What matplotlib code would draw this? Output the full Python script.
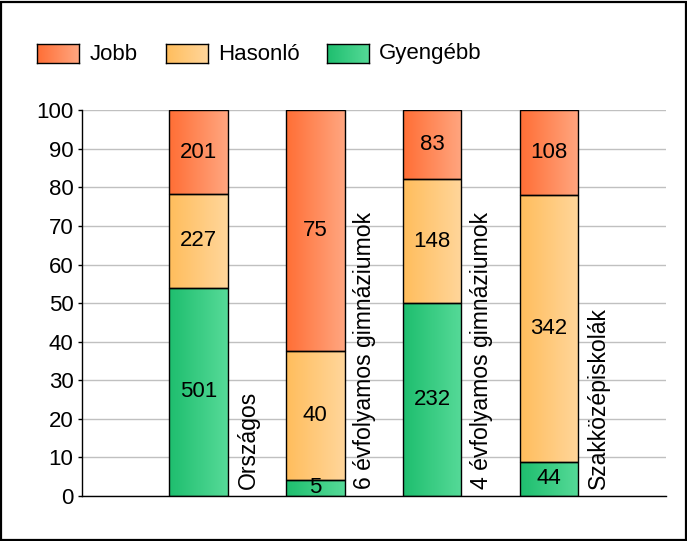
import numpy as np
import matplotlib
matplotlib.use("Agg")
import matplotlib.pyplot as plt
from matplotlib.patches import Rectangle
from matplotlib.colors import LinearSegmentedColormap

plt.rcParams['font.family'] = ['Liberation Sans', 'DejaVu Sans']

categories = ["Országos", "6 évfolyamos gimnáziumok", "4 évfolyamos gimnáziumok", "Szakközépiskolák"]
series_names = ["Jobb", "Hasonló", "Gyengébb"]
gyengebb = [501, 5, 232, 44]
hasonlo = [227, 40, 148, 342]
jobb = [201, 75, 83, 108]
yticks = list(range(0, 101, 10))

grad = {
    "Gyengébb": ("#1EBE6E", "#56DA98"),
    "Hasonló": ("#FFBD5C", "#FFD69B"),
    "Jobb": ("#FF6E35", "#FFA680"),
}
FS = 16

W, H = 687, 541
fig = plt.figure(figsize=(W / 100, H / 100), dpi=100)
ax_l, ax_r, ax_t, ax_b = 81.7, 665.7, 110.3, 496.0
ax = fig.add_axes([ax_l / W, (H - ax_b) / H, (ax_r - ax_l) / W, (ax_b - ax_t) / H])

x = np.arange(1, len(categories) + 1)
tot = np.array(gyengebb) + np.array(hasonlo) + np.array(jobb)
stack = [("Gyengébb", np.array(gyengebb)), ("Hasonló", np.array(hasonlo)), ("Jobb", np.array(jobb))]
bw = 0.5
bottom = np.zeros(len(categories))
gradimg = np.linspace(0, 1, 256).reshape(1, -1)
for name, vals in stack:
    pct = vals / tot * 100
    bars = ax.bar(x, pct, bw, bottom=bottom, facecolor='none', edgecolor='black', linewidth=1.0, zorder=3)
    cmap = LinearSegmentedColormap.from_list(name, grad[name])
    for rect, v, b, p in zip(bars, vals, bottom, pct):
        x0, y0 = rect.get_x(), rect.get_y()
        ax.imshow(gradimg, cmap=cmap, aspect='auto', extent=(x0, x0 + rect.get_width(), y0, y0 + rect.get_height()),
                  zorder=2, interpolation='bilinear')
        ax.text(rect.get_x() + rect.get_width() / 2, b + p / 2, str(v), ha='center', va='center', fontsize=FS, zorder=4)
    bottom = bottom + pct

for xi, cat in zip(x, categories):
    ax.annotate(cat, xy=(xi + bw / 2, 0), xytext=(9, 7), textcoords='offset pixels', rotation=90,
                ha='left', va='bottom', fontsize=16.6)

ax.set_xlim(0, 5)
ax.set_ylim(0, 100)
ax.set_yticks(yticks)
ax.set_xticks([])
ax.tick_params(axis='y', length=3, width=1, pad=3, labelsize=FS)
ax.grid(axis='y', color='#C0C0C0', linewidth=1, zorder=0)
ax.set_axisbelow(True)
for s in ['top', 'right']:
    ax.spines[s].set_visible(False)
for s in ['left', 'bottom']:
    ax.spines[s].set_linewidth(1)

# legend
leg_x = [37.3, 165.7, 327.3]
for lx, name in zip(leg_x, series_names):
    lax = fig.add_axes([lx / W, (H - 63.3) / H, 42 / W, 19 / H])
    cmap = LinearSegmentedColormap.from_list(name, grad[name])
    lax.imshow(gradimg, cmap=cmap, aspect='auto', interpolation='bilinear')
    lax.set_xticks([]); lax.set_yticks([])
    for sp in lax.spines.values():
        sp.set_linewidth(1)
    fig.text((lx + 52) / W, (H - 54) / H, name, ha='left', va='center', fontsize=FS)

fig.patches.append(Rectangle((1 / W, 1.5 / H), (W - 2) / W, (H - 3) / H, transform=fig.transFigure,
                             fill=False, edgecolor='black', linewidth=1.6))

fig.savefig("out.png", dpi=100)
